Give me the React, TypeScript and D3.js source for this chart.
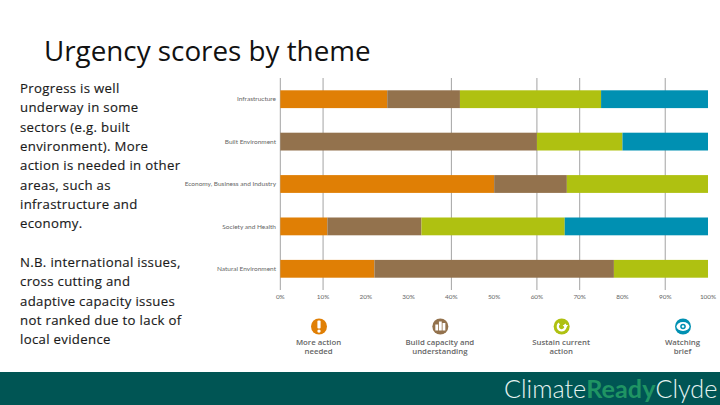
import * as d3 from "d3";

const themes = [
  "Infrastructure",
  "Built Environment",
  "Economy, Business and Industry",
  "Society and Health",
  "Natural Environment",
];
const moreAction = [25, 0, 50, 11, 22];
const buildCapacity = [17, 60, 17, 22, 56];
const sustainAction = [33, 20, 33, 33.5, 22];
const watchingBrief = [25, 20, 0, 33.5, 0];

const seriesKeys = ["more", "build", "sustain", "watch"];
const seriesColors = ["#e07f05", "#93724d", "#afc111", "#0090b2"];
const tickValues = [0, 10, 20, 30, 40, 50, 60, 70, 80, 90, 100];
// only some of the gridlines survive in the reference
const gridValues = [0, 10, 40, 60, 70, 90];

const legendLabels = [
  ["More action", "needed"],
  ["Build capacity and", "understanding"],
  ["Sustain current", "action"],
  ["Watching", "brief"],
];

const bodyLines = [
  "Progress is well",
  "underway in some",
  "sectors (e.g. built",
  "environment). More",
  "action is needed in other",
  "areas, such as",
  "infrastructure and",
  "economy.",
];
const noteLines = [
  "N.B. international issues,",
  "cross cutting and",
  "adaptive capacity issues",
  "not ranked due to lack of",
  "local evidence",
];

const x = d3.scaleLinear().domain([0, 100]).range([280.3, 708]);
const y = d3
  .scaleBand()
  .domain(themes)
  .range([78, 290])
  .paddingInner(0.58)
  .paddingOuter(0.29);
const legendX = d3.scalePoint().domain(seriesKeys).range([319, 683]);

const rows = themes.map((t, i) => ({
  theme: t,
  more: moreAction[i],
  build: buildCapacity[i],
  sustain: sustainAction[i],
  watch: watchingBrief[i],
}));
const stacked = d3.stack<any>().keys(seriesKeys)(rows);

function LegendGlyph({ k }: { k: string }) {
  if (k === "more") {
    return (
      <g fill="#fff">
        <rect x={-1.6} y={-6} width={3.2} height={8} rx={1} />
        <circle cx={0} cy={4.6} r={1.7} />
      </g>
    );
  }
  if (k === "build") {
    return (
      <g fill="#fff">
        <rect x={-5} y={-2} width={2.8} height={6} />
        <rect x={-1.4} y={-5} width={2.8} height={9} />
        <rect x={2.2} y={-3.5} width={2.8} height={7.5} />
      </g>
    );
  }
  if (k === "sustain") {
    const ring = d3.arc()({
      innerRadius: 2.6,
      outerRadius: 5,
      startAngle: 0.9,
      endAngle: 5.6,
    } as any) as string;
    return (
      <g fill="#fff">
        <path d={ring} />
        <path d={d3.line()([[1, -1.5], [6.5, -1.5], [3.8, 2]]) as string} />
      </g>
    );
  }
  return (
    <g>
      <ellipse rx={6.5} ry={4.4} fill="#fff" />
      <circle r={2.8} fill="#0090b2" />
      <circle r={1.2} fill="#fff" />
    </g>
  );
}

export default function App() {
  const sans = "'Open Sans', sans-serif";
  return (
    <svg
      width={720}
      height={405}
      style={{ position: "absolute", left: 0, top: 0, background: "#fff" }}
    >
      <text x={44} y={61} fontFamily={sans} fontSize={27.8} fill="#111">
        Urgency scores by theme
      </text>

      <g
        fontFamily={sans}
        fontSize={13.2}
        fill="#1a1a1a"
        stroke="#1a1a1a"
        strokeWidth={0.15}
        letterSpacing={0.32}
      >
        {bodyLines.map((l, i) => (
          <text key={l} x={20} y={93 + i * 19.3}>
            {l}
          </text>
        ))}
        {noteLines.map((l, i) => (
          <text key={l} x={20} y={267 + i * 19.3}>
            {l}
          </text>
        ))}
      </g>

      {gridValues.map((v) => (
        <line
          key={v}
          x1={x(v)}
          x2={x(v)}
          y1={78}
          y2={290}
          stroke="#a3a3a3"
          strokeWidth={1}
        />
      ))}

      {stacked.map((s, i) => (
        <g key={s.key} fill={seriesColors[i]}>
          {s.map((d) => (
            <rect
              key={d.data.theme}
              x={x(d[0])}
              y={y(d.data.theme)}
              width={x(d[1]) - x(d[0])}
              height={y.bandwidth()}
            />
          ))}
        </g>
      ))}

      <g fontFamily="Lato, sans-serif" fontSize={6.5} fill="#666" textAnchor="end">
        {themes.map((t) => (
          <text key={t} x={276} y={(y(t) as number) + y.bandwidth() / 2 + 2.2}>
            {t}
          </text>
        ))}
      </g>
      <g fontFamily="Lato, sans-serif" fontSize={6.4} fill="#666" textAnchor="middle">
        {tickValues.map((v) => (
          <text key={v} x={x(v)} y={299}>
            {v}%
          </text>
        ))}
      </g>

      {seriesKeys.map((k, i) => (
        <g key={k} transform={`translate(${legendX(k)},0)`}>
          <g transform="translate(0,326.5)">
            <circle r={8} fill={seriesColors[i]} />
            <LegendGlyph k={k} />
          </g>
          <g
            fontFamily={sans}
            fontSize={7.8}
            fontWeight={600}
            fill="#666"
            textAnchor="middle"
          >
            {legendLabels[i].map((l, j) => (
              <text key={l} x={-0.5} y={344.5 + j * 9.6}>
                {l}
              </text>
            ))}
          </g>
        </g>
      ))}

      <rect x={0} y={372} width={720} height={33} fill="#005554" />
      <text x={504} y={398} fontFamily="Lato, sans-serif" fontSize={25.2} fontWeight={300} fill="#e6f3f1">
        Climate
        <tspan fontWeight={700} fill="#1f9463">
          Ready
        </tspan>
        Clyde
      </text>
    </svg>
  );
}
